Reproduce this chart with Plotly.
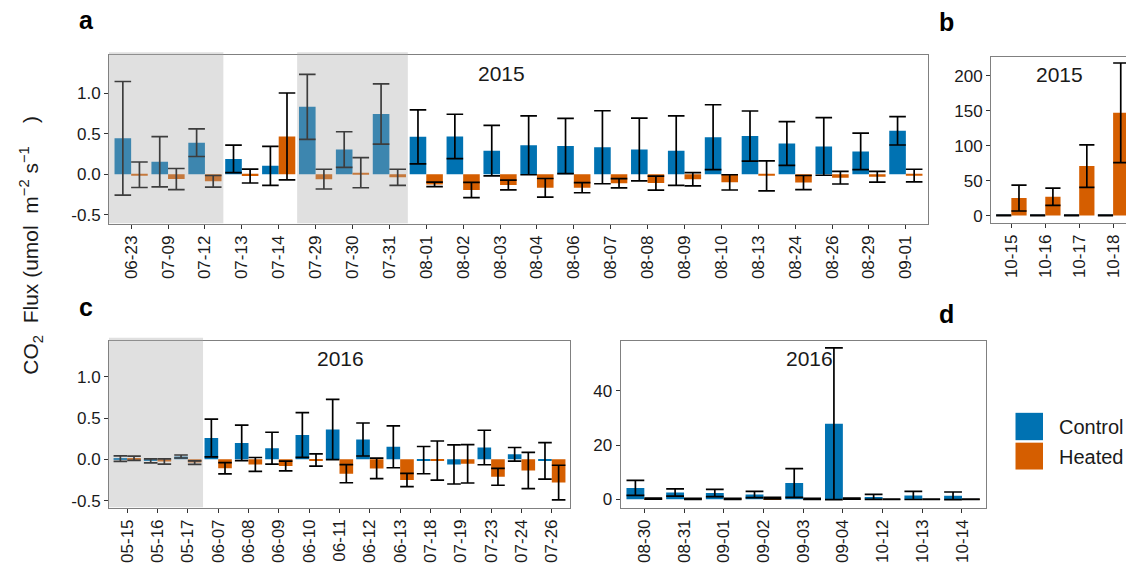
import plotly.graph_objects as go

W, H = 1126, 572

# ---------------- data ----------------
a_dates = ["06-23", "07-09", "07-12", "07-13", "07-14", "07-29", "07-30", "07-31",
           "08-01", "08-02", "08-03", "08-04", "08-06", "08-07", "08-08", "08-09",
           "08-10", "08-13", "08-24", "08-26", "08-29", "09-01"]
a_ctrl = [0.445, 0.155, 0.39, 0.19, 0.105, 0.832, 0.306, 0.744, 0.462, 0.468, 0.292,
          0.358, 0.349, 0.334, 0.306, 0.292, 0.458, 0.472, 0.38, 0.344, 0.283, 0.537]
a_ctrl_se = [0.70, 0.31, 0.17, 0.17, 0.24, 0.40, 0.219, 0.372, 0.333, 0.273, 0.311,
             0.363, 0.34, 0.45, 0.387, 0.428, 0.40, 0.309, 0.27, 0.355, 0.225, 0.175]
a_heat = [-0.005, -0.058, -0.086, -0.021, 0.467, -0.059, 0.02, -0.037, -0.124, -0.193, -0.132,
          -0.166, -0.164, -0.11, -0.108, -0.061, -0.099, -0.018, -0.101, -0.041, -0.029, -0.015]
a_heat_se = [0.157, 0.13, 0.072, 0.086, 0.536, 0.122, 0.185, 0.10, 0.028, 0.093, 0.06,
             0.115, 0.063, 0.057, 0.087, 0.082, 0.094, 0.185, 0.087, 0.078, 0.066, 0.078]

b_dates = ["10-15", "10-16", "10-17", "10-18"]
b_ctrl = [0.1, 0.1, 0.1, 0.1]
b_ctrl_se = [0.4, 0.4, 0.4, 0.4]
b_heat = [25.0, 27.0, 70.8, 147.2]
b_heat_se = [18.5, 12.4, 30.4, 71.3]

c_dates = ["05-15", "05-16", "05-17", "06-07", "06-08", "06-09", "06-10", "06-11",
           "06-12", "06-13", "07-18", "07-19", "07-23", "07-24", "07-26"]
c_ctrl = [0.008, -0.018, 0.034, 0.258, 0.198, 0.135, 0.294, 0.361, 0.24, 0.151,
          -0.01, -0.062, 0.143, 0.061, -0.02]
c_ctrl_se = [0.034, 0.024, 0.018, 0.229, 0.215, 0.193, 0.271, 0.365, 0.2, 0.253,
             0.165, 0.237, 0.209, 0.082, 0.221]
c_heat = [0.012, -0.026, -0.04, -0.108, -0.062, -0.081, -0.009, -0.174, -0.11, -0.251,
          -0.015, -0.054, -0.212, -0.135, -0.281]
c_heat_se = [0.026, 0.032, 0.022, 0.068, 0.084, 0.058, 0.074, 0.11, 0.124, 0.08,
             0.237, 0.233, 0.102, 0.22, 0.209]

d_dates = ["08-30", "08-31", "09-01", "09-02", "09-03", "09-04", "10-12", "10-13", "10-14"]
d_ctrl = [4.2, 2.55, 2.35, 1.8, 6.0, 27.8, 0.9, 1.45, 1.3]
d_ctrl_se = [2.75, 1.34, 1.34, 1.16, 5.3, 27.9, 0.9, 1.5, 1.4]
d_heat = [0.25, 0.2, 0.2, 0.45, 0.15, 0.25, 0.05, 0.05, 0.05]
d_heat_se = [0.2, 0.2, 0.2, 0.3, 0.2, 0.2, 0.05, 0.05, 0.05]

ab_ticks = [-0.5, 0.0, 0.5, 1.0]
ab_ticktext = ["-0.5", "0.0", "0.5", "1.0"]
b_ticks = [0, 50, 100, 150, 200]
d_ticks = [0, 20, 40]

CTRL = "#0072B2"
HEAT = "#D55E00"
FONT = "Liberation Sans, Arial, Helvetica, sans-serif"


def X(px):
    return px / W


def Y(py):
    return 1 - py / H


fig = go.Figure()

panels = [
    # dates, ctrl, ctrl_se, heat, heat_se, axis suffix, cap half width
    (a_dates, a_ctrl, a_ctrl_se, a_heat, a_heat_se, "", 8.3),
    (b_dates, b_ctrl, b_ctrl_se, b_heat, b_heat_se, "2", 7.6),
    (c_dates, c_ctrl, c_ctrl_se, c_heat, c_heat_se, "3", 6.8),
    (d_dates, d_ctrl, d_ctrl_se, d_heat, d_heat_se, "4", 8.9),
]

for i, (dates, ctl, ctl_se, ht, ht_se, sfx, capw) in enumerate(panels):
    for name, vals, se, col in (("Control", ctl, ctl_se, CTRL), ("Heated", ht, ht_se, HEAT)):
        fig.add_trace(go.Bar(
            x=dates, y=vals, name=name, marker=dict(color=col, line=dict(width=0)),
            error_y=dict(type="data", array=se, visible=True, color="black",
                         thickness=1.7, width=capw),
            xaxis="x" + sfx, yaxis="y" + sfx, showlegend=False,
        ))

common = dict(showline=True, linecolor="#808080", linewidth=1, ticks="outside",
              ticklen=4, tickwidth=1, tickcolor="#333333", showgrid=False,
              zeroline=False, tickfont=dict(size=17, color="#1a1a1a", family=FONT))

fig.update_layout(
    width=W, height=H, margin=dict(l=0, r=0, t=0, b=0),
    paper_bgcolor="white", plot_bgcolor="white",
    barmode="group", bargap=0.1, bargroupgap=0,
    font=dict(family=FONT, color="#1a1a1a"),
    xaxis=dict(domain=[X(109), X(928)], anchor="y", type="category",
               range=[-0.6, len(a_dates) - 0.4], tickangle=-90, mirror=True, **common),
    yaxis=dict(domain=[Y(225), Y(55)], anchor="x", range=[-0.61, 1.475],
               tickvals=ab_ticks, ticktext=ab_ticktext, mirror=True, **common),
    xaxis2=dict(domain=[X(991), 1.0], anchor="y2", type="category",
                range=[-0.6, 3.38], tickangle=-90, mirror=True, **common),
    yaxis2=dict(domain=[Y(224), Y(57)], anchor="x2", range=[-10.4, 227.5],
                tickvals=b_ticks, mirror=False, **common),
    xaxis3=dict(domain=[X(109), X(570)], anchor="y3", type="category",
                range=[-0.6, len(c_dates) - 0.4], tickangle=-90, mirror=True, **common),
    yaxis3=dict(domain=[Y(510.3), Y(342.7)], anchor="x3", range=[-0.585, 1.434],
                tickvals=ab_ticks, ticktext=ab_ticktext, mirror=True, **common),
    xaxis4=dict(domain=[X(620.5), X(985.8)], anchor="y4", type="category",
                range=[-0.6, len(d_dates) - 0.4], tickangle=-90, mirror=True, **common),
    yaxis4=dict(domain=[Y(510.3), Y(342.7)], anchor="x4", range=[-3.04, 58.3],
                tickvals=d_ticks, mirror=True, **common),
)

# shaded periods (semi-transparent grey drawn above the bars)
shade = "rgba(169,169,169,0.36)"
for xr, x0, x1, ytop, ybot in (("x", -0.6, 2.5, 52.5, 224.5),
                               ("x", 4.5, 7.5, 52.5, 224.5),
                               ("x3", -0.6, 2.5, 339.5, 509.8)):
    fig.add_shape(type="rect", xref=xr, yref="paper", x0=x0, x1=x1,
                  y0=Y(ybot), y1=Y(ytop), fillcolor=shade, line=dict(width=0),
                  layer="above")

# legend (manual, large swatches)
for col, y0, y1 in ((CTRL, 415, 442.5), (HEAT, 445, 472)):
    fig.add_shape(type="rect", xref="paper", yref="paper", x0=X(1015.5), x1=X(1043),
                  y0=Y(y1), y1=Y(y0), fillcolor=col, line=dict(width=0))

ann = []
for txt, x, y in (("Control", 1057, 429), ("Heated", 1057, 459)):
    ann.append(dict(text=txt, x=X(x), y=Y(y), xref="paper", yref="paper",
                    xanchor="left", yanchor="middle", showarrow=False,
                    font=dict(size=20, color="#1a1a1a")))

for txt, x, y in (("2015", 501, 74), ("2015", 1059, 75), ("2016", 340, 360), ("2016", 809, 360)):
    ann.append(dict(text=txt, x=X(x), y=Y(y), xref="paper", yref="paper",
                    xanchor="center", yanchor="middle", showarrow=False,
                    font=dict(size=21, color="#1a1a1a")))

for txt, x, y in (("a", 86.5, 20), ("b", 946, 22), ("c", 85.5, 309), ("d", 946, 316)):
    ann.append(dict(text="<b>" + txt + "</b>", x=X(x), y=Y(y), xref="paper", yref="paper",
                    xanchor="center", yanchor="middle", showarrow=False,
                    font=dict(size=25, color="black")))

ann.append(dict(text="CO<sub>2</sub>  Flux (umol  m<sup>\u22122</sup> s<sup>\u22121</sup>    )",
                x=X(31), y=Y(247), xref="paper", yref="paper", textangle=-90,
                xanchor="center", yanchor="middle", showarrow=False,
                font=dict(size=21, color="#1a1a1a")))

fig.update_layout(annotations=ann)

fig.write_html(
    "out.html",
    config={"displayModeBar": False},
    post_script="document.body.style.margin='0';document.body.style.overflow='hidden';"
)
